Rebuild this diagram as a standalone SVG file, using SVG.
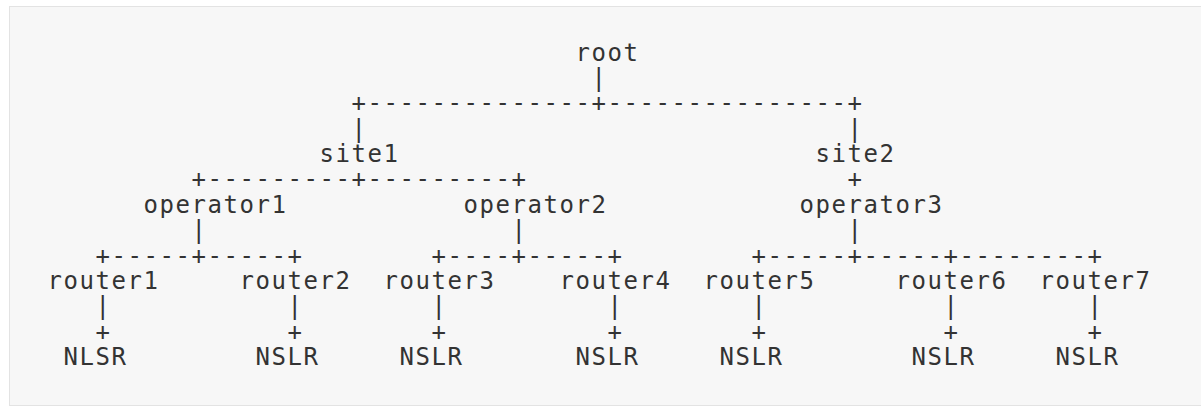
<svg xmlns="http://www.w3.org/2000/svg" width="1201" height="407" viewBox="0 0 1201 407">
<style>
text{font-family:"DejaVu Sans Mono","Liberation Mono",monospace;font-size:24px;letter-spacing:1.55px;fill:#333333;white-space:pre}
</style>
<rect x="0" y="0" width="1201" height="407" fill="#ffffff"/>
<rect x="9.5" y="6.5" width="1200" height="399" fill="#f7f7f7" stroke="#e3e3e3" stroke-width="1"/>
<g id="connectors">
<text x="591.5" y="85.9">|</text>
<text x="351.5" y="111.3">+--------------+---------------+</text>
<text x="351.5" y="136.6">|</text>
<text x="847.5" y="136.6">|</text>
<text x="191.5" y="187.4">+---------+---------+</text>
<text x="847.5" y="187.4">+</text>
<text x="191.5" y="238.1">|</text>
<text x="511.5" y="238.1">|</text>
<text x="847.5" y="238.1">|</text>
<text x="95.5" y="263.5">+-----+-----+</text>
<text x="431.5" y="263.5">+----+-----+</text>
<text x="751.5" y="263.5">+-----+-----+--------+</text>
<text x="95.5" y="314.3">|</text>
<text x="287.5" y="314.3">|</text>
<text x="431.5" y="314.3">|</text>
<text x="607.5" y="314.3">|</text>
<text x="751.5" y="314.3">|</text>
<text x="943.5" y="314.3">|</text>
<text x="1087.5" y="314.3">|</text>
<text x="95.5" y="339.6">+</text>
<text x="287.5" y="339.6">+</text>
<text x="431.5" y="339.6">+</text>
<text x="607.5" y="339.6">+</text>
<text x="751.5" y="339.6">+</text>
<text x="943.5" y="339.6">+</text>
<text x="1087.5" y="339.6">+</text>
</g>
<g id="root"><text x="575.5" y="60.5">root</text></g>
<g id="site1"><text x="319.5" y="161.9">site1</text></g>
<g id="site2"><text x="815.5" y="161.9">site2</text></g>
<g id="operator1"><text x="143.5" y="212.8">operator1</text></g>
<g id="operator2"><text x="463.5" y="212.8">operator2</text></g>
<g id="operator3"><text x="799.5" y="212.8">operator3</text></g>
<g id="router1"><text x="47.5" y="288.9">router1</text></g>
<g id="router2"><text x="239.5" y="288.9">router2</text></g>
<g id="router3"><text x="383.5" y="288.9">router3</text></g>
<g id="router4"><text x="559.5" y="288.9">router4</text></g>
<g id="router5"><text x="703.5" y="288.9">router5</text></g>
<g id="router6"><text x="895.5" y="288.9">router6</text></g>
<g id="router7"><text x="1039.5" y="288.9">router7</text></g>
<g id="nlsr1"><text x="63.5" y="365">NLSR</text></g>
<g id="nslr2"><text x="255.5" y="365">NSLR</text></g>
<g id="nslr3"><text x="399.5" y="365">NSLR</text></g>
<g id="nslr4"><text x="575.5" y="365">NSLR</text></g>
<g id="nslr5"><text x="719.5" y="365">NSLR</text></g>
<g id="nslr6"><text x="911.5" y="365">NSLR</text></g>
<g id="nslr7"><text x="1055.5" y="365">NSLR</text></g>
</svg>
